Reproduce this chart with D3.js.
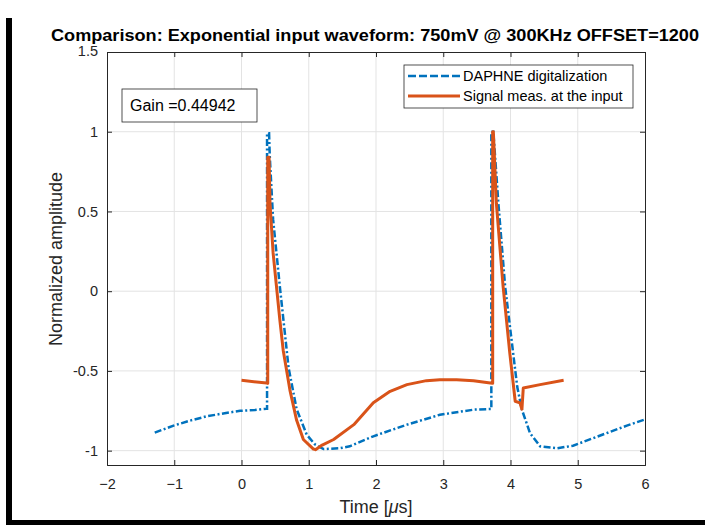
<!DOCTYPE html>
<html>
<head>
<meta charset="utf-8">
<script src="https://cdn.jsdelivr.net/npm/d3@7"></script>
<style>
  body { margin: 0; background: #fff; }
  svg { display: block; font-family: "Liberation Sans", Arial, sans-serif; }
</style>
</head>
<body>
<svg width="705" height="525"></svg>
<script>
// values
const daphneTime = [-1.29, -1.01, -0.75, -0.52, -0.25, -0.02, 0.2, 0.37, 0.38, 0.38, 0.41, 0.42, 0.47, 0.57, 0.70, 0.82, 0.97, 1.09, 1.22, 1.46, 1.61, 1.96, 2.46, 2.95, 3.45, 3.70, 3.715, 3.715, 3.745, 3.82, 3.92, 4.04, 4.10, 4.17, 4.29, 4.44, 4.69, 4.93, 5.43, 5.73, 6.03];
const daphneAmp  = [-0.887, -0.843, -0.81, -0.785, -0.765, -0.75, -0.745, -0.737, -0.737, 0.99, 0.99, 0.85, 0.45, 0.03, -0.48, -0.74, -0.90, -0.96, -0.99, -0.985, -0.973, -0.91, -0.837, -0.775, -0.743, -0.739, -0.739, 1.0, 1.0, 0.55, 0.03, -0.39, -0.60, -0.743, -0.89, -0.973, -0.985, -0.969, -0.89, -0.843, -0.80];

const signalTime = [0.0, 0.375, 0.39, 0.39, 0.41, 0.424, 0.47, 0.57, 0.62, 0.72, 0.82, 0.92, 1.07, 1.10, 1.2, 1.37, 1.67, 1.96, 2.21, 2.46, 2.75, 2.95, 3.2, 3.45, 3.70, 3.735, 3.735, 3.745, 3.79, 3.89, 3.99, 4.07, 4.14, 4.17, 4.19, 4.44, 4.79];
const signalAmp  = [-0.559, -0.576, -0.578, 0.84, 0.84, 0.55, 0.24, -0.18, -0.37, -0.62, -0.81, -0.93, -0.99, -0.994, -0.965, -0.93, -0.837, -0.70, -0.628, -0.586, -0.561, -0.555, -0.556, -0.561, -0.576, -0.578, 1.0, 1.0, 0.55, 0.03, -0.39, -0.69, -0.70, -0.74, -0.607, -0.586, -0.559];

const xTicks = [-2, -1, 0, 1, 2, 3, 4, 5, 6];
const yTicks = [-1, -0.5, 0, 0.5, 1, 1.5];
const legendLabels = ["DAPHNE digitalization", "Signal meas. at the input"];
const gainText = "Gain =0.44942";
const titleText = "Comparison: Exponential input waveform: 750mV @ 300KHz OFFSET=1200";

const svg = d3.select("svg");
const margin = {top: 52, right: 60, bottom: 60, left: 107};
const width = 645 - margin.left;
const height = 465 - margin.top;
const axisColor = "#262626";
const dash = "7,2.5,2,2.5";

// frame of the screenshot
svg.append("rect").attr("x", 6).attr("y", 18).attr("width", 6).attr("height", 506).attr("fill", "#000");
svg.append("rect").attr("x", 6).attr("y", 520).attr("width", 699).attr("height", 5).attr("fill", "#000");

const x = d3.scaleLinear().domain([-2, 6]).range([0, width]);
const y = d3.scaleLinear().domain([-1.09, 1.5]).range([height, 0]);

const g = svg.append("g").attr("transform", `translate(${margin.left},${margin.top})`);

// grid
g.append("g").selectAll("line").data(xTicks.slice(1, -1)).enter().append("line")
  .attr("x1", d => x(d)).attr("x2", d => x(d)).attr("y1", 0).attr("y2", height)
  .attr("stroke", "#e3e3e3");
g.append("g").selectAll("line").data(yTicks.slice(0, -1)).enter().append("line")
  .attr("x1", 0).attr("x2", width).attr("y1", d => y(d)).attr("y2", d => y(d))
  .attr("stroke", "#e3e3e3");

// clip the curves to the axes
g.append("clipPath").attr("id", "clip").append("rect").attr("width", width).attr("height", height);

const line = d3.line().x(d => x(d[0])).y(d => y(d[1]));
const daphne = daphneTime.map((t, i) => [t, daphneAmp[i]]);
const signal = signalTime.map((t, i) => [t, signalAmp[i]]);

g.append("path").datum(daphne)
  .attr("clip-path", "url(#clip)")
  .attr("d", line)
  .attr("fill", "none")
  .attr("stroke", "#0072BD")
  .attr("stroke-width", 2.5)
  .attr("stroke-dasharray", dash);

g.append("path").datum(signal)
  .attr("clip-path", "url(#clip)")
  .attr("d", line)
  .attr("fill", "none")
  .attr("stroke", "#D95319")
  .attr("stroke-width", 3)
  .attr("stroke-linejoin", "round");

// axes with ticks on all four sides, pointing inwards
g.append("g").attr("transform", `translate(0,${height})`)
  .call(d3.axisBottom(x).tickValues(xTicks).tickSize(-5).tickPadding(14).tickFormat(d3.format("d")));
g.append("g")
  .call(d3.axisTop(x).tickValues(xTicks).tickSize(-5).tickFormat(""));
g.append("g")
  .call(d3.axisLeft(y).tickValues(yTicks).tickSize(-5).tickPadding(9).tickFormat(d => d));
g.append("g").attr("transform", `translate(${width},0)`)
  .call(d3.axisRight(y).tickValues(yTicks).tickSize(-5).tickFormat(""));

g.selectAll(".domain").attr("stroke", axisColor);
g.selectAll(".tick line").attr("stroke", axisColor);
g.selectAll(".tick text").attr("fill", axisColor).style("font-size", "14.5px");
// the 1.5 label sits a little higher in the reference, just under the title
g.selectAll(".tick text").filter(d => d === 1.5).attr("dy", "0.25em");

// axis labels
svg.append("text")
  .attr("x", 376).attr("y", 513)
  .attr("text-anchor", "middle")
  .style("font-size", "18px").attr("fill", axisColor)
  .html("Time [<tspan font-style='italic'>μ</tspan>s]");
svg.append("text")
  .attr("transform", "translate(62,259) rotate(-90)")
  .attr("text-anchor", "middle")
  .style("font-size", "18px").attr("fill", axisColor)
  .text("Normalized amplitude");

// title
svg.append("text")
  .attr("x", 51).attr("y", 41)
  .attr("textLength", 648).attr("lengthAdjust", "spacingAndGlyphs")
  .style("font-size", "16px").style("font-weight", "bold")
  .attr("fill", "#000")
  .text(titleText);

// legend
const legend = svg.append("g").attr("transform", "translate(404,65)");
legend.append("rect").attr("width", 229).attr("height", 43)
  .attr("fill", "#fff").attr("stroke", axisColor).attr("stroke-width", 0.8);
const legendStyles = [
  {color: "#0072BD", width: 2.5, dash: "8,3"},
  {color: "#D95319", width: 3, dash: null}
];
legendLabels.forEach((label, i) => {
  const row = legend.append("g").attr("transform", `translate(0,${11 + i * 20})`);
  row.append("line").attr("x1", 4).attr("x2", 56).attr("y1", 0).attr("y2", 0)
    .attr("stroke", legendStyles[i].color)
    .attr("stroke-width", legendStyles[i].width)
    .attr("stroke-dasharray", legendStyles[i].dash);
  row.append("text").attr("x", 59).attr("y", 5)
    .style("font-size", "14.5px").attr("fill", "#000")
    .text(label);
});

// gain annotation
svg.append("rect").attr("x", 122).attr("y", 89).attr("width", 135).attr("height", 33)
  .attr("fill", "#fff").attr("stroke", axisColor).attr("stroke-width", 0.8);
svg.append("text").attr("x", 130).attr("y", 111)
  .style("font-size", "16px").attr("fill", "#000")
  .text(gainText);
</script>
</body>
</html>
